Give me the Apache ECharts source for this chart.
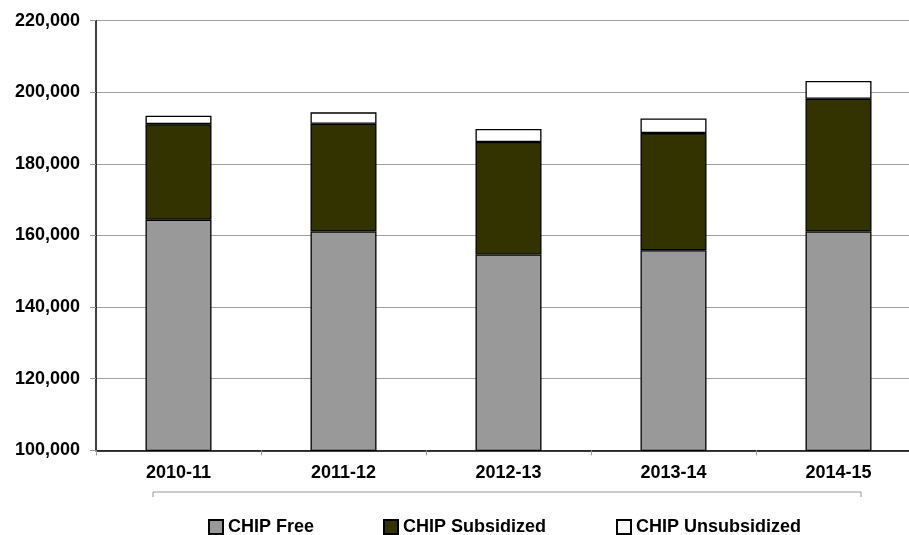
<!DOCTYPE html>
<html>
<head>
<meta charset="utf-8">
<script src="https://cdn.jsdelivr.net/npm/echarts@6/dist/echarts.min.js"></script>
<style>
  html, body { margin: 0; padding: 0; background: #fff; }
  #chip-chart { width: 909px; height: 535px; }
</style>
</head>
<body>
<div id="chip-chart"></div>
<script>
var years = ["2010-11", "2011-12", "2012-13", "2013-14", "2014-15"];
var chipFree = [164400, 161100, 154700, 155900, 161100];
var chipSubsidized = [26700, 30100, 31400, 32700, 37100];
var chipUnsubsidized = [2350, 3200, 3650, 4100, 4950];
var yTicks = [100000, 120000, 140000, 160000, 180000, 200000, 220000];

var chart = echarts.init(document.getElementById("chip-chart"));

var labelFont = {
  color: "#000",
  fontSize: 18,
  fontWeight: "bold",
  fontFamily: "Liberation Sans, Arial, sans-serif"
};

function legendAt(left, name) {
  return {
    left: left,
    top: 513,
    itemWidth: 14,
    itemHeight: 14,
    icon: "rect",
    data: [name],
    textStyle: labelFont,
    selectedMode: false
  };
}

var option = {
  animation: false,
  grid: {
    left: 96,
    top: 20.7,
    width: 825,
    height: 429.6,
    outerBoundsMode: "none"
  },
  legend: [
    legendAt(203, "CHIP Free"),
    legendAt(378, "CHIP Subsidized"),
    legendAt(611, "CHIP Unsubsidized")
  ],
  xAxis: {
    type: "category",
    data: years,
    axisLine: { lineStyle: { color: "#000", width: 1.5 } },
    axisTick: { show: true, length: 5, lineStyle: { color: "#999" } },
    axisLabel: Object.assign({ margin: 14 }, labelFont)
  },
  yAxis: {
    type: "value",
    min: yTicks[0],
    max: yTicks[yTicks.length - 1],
    interval: 20000,
    axisLine: { show: true, lineStyle: { color: "#000", width: 1.5 } },
    axisTick: { show: true, length: 6, lineStyle: { color: "#999" } },
    axisLabel: Object.assign({
      margin: 16,
      formatter: function (v) { return v.toLocaleString("en-US"); }
    }, labelFont),
    splitLine: { lineStyle: { color: "#a0a0a0", width: 1 } }
  },
  series: [
    {
      name: "CHIP Free",
      type: "bar",
      stack: "chip",
      barWidth: "40%",
      data: chipFree,
      itemStyle: { color: "#999999", borderColor: "#000", borderWidth: 1.3 }
    },
    {
      name: "CHIP Subsidized",
      type: "bar",
      stack: "chip",
      data: chipSubsidized,
      itemStyle: { color: "#333300", borderColor: "#000", borderWidth: 1.3 }
    },
    {
      name: "CHIP Unsubsidized",
      type: "bar",
      stack: "chip",
      data: chipUnsubsidized,
      itemStyle: { color: "#ffffff", borderColor: "#000", borderWidth: 1.3 }
    }
  ],
  graphic: [
    {
      type: "polyline",
      shape: { points: [[153, 497], [153, 492], [861, 492], [861, 497]] },
      style: { stroke: "#999", lineWidth: 1, fill: null }
    }
  ]
};

chart.setOption(option);
window.addEventListener("resize", function () {
  chart.resize();
});
</script>
</body>
</html>
